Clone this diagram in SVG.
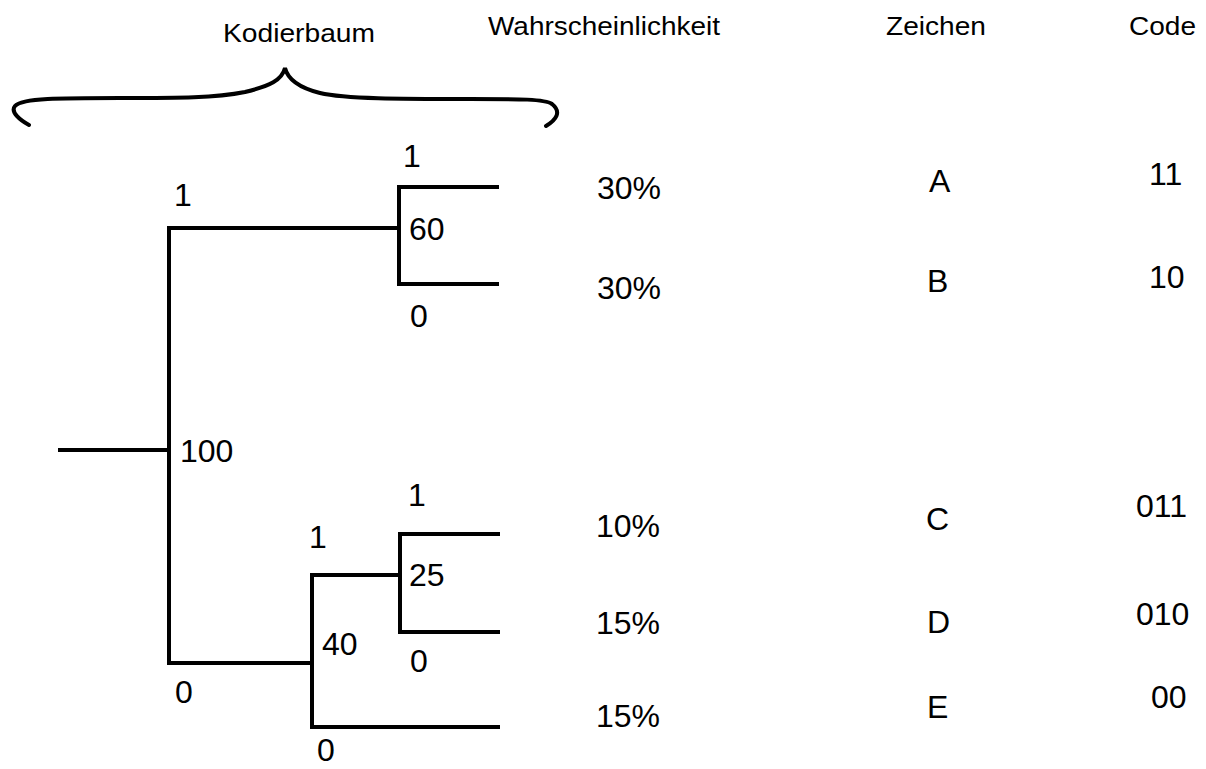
<svg xmlns="http://www.w3.org/2000/svg" width="1206" height="769" viewBox="0 0 1206 769">
<style>
  .ln{stroke:#000;stroke-width:4;fill:none;stroke-linecap:square}
  .t{font-family:"Liberation Sans",Arial,sans-serif;font-size:32px;fill:#000}
  .h{font-family:"Liberation Sans",Arial,sans-serif;font-size:26px;fill:#000}
</style>
<rect width="1206" height="769" fill="#fff"/>
<g id="headers">
  <text class="h" x="223" y="42" textLength="152" lengthAdjust="spacingAndGlyphs">Kodierbaum</text>
  <text class="h" x="488" y="35" textLength="232" lengthAdjust="spacingAndGlyphs">Wahrscheinlichkeit</text>
  <text class="h" x="886" y="35" textLength="100" lengthAdjust="spacingAndGlyphs">Zeichen</text>
  <text class="h" x="1129" y="35" textLength="67" lengthAdjust="spacingAndGlyphs">Code</text>
</g>
<g id="brace">
  <path d="M29,125 C20,120 10,112 15,106 C22,98 60,98 120,98 C180,98 215,98 245,92 C270,86 282,80 285,68 C288,80 300,88 320,93 C345,99 400,99 470,99 C520,99 545,99 552,104 C562,112 556,120 546,126" stroke="#000" stroke-width="4" fill="none" stroke-linecap="round"/>
</g>
<g id="connectors">
  <path class="ln" d="M60,450 H168"/>
  <path class="ln" d="M169,228 V663"/>
  <path class="ln" d="M169,228 H396"/>
  <path class="ln" d="M399,187 V284"/>
  <path class="ln" d="M399,187 H497"/>
  <path class="ln" d="M399,284 H497"/>
  <path class="ln" d="M169,663 H310"/>
  <path class="ln" d="M312,575 V727"/>
  <path class="ln" d="M312,575 H398"/>
  <path class="ln" d="M400,534 V632"/>
  <path class="ln" d="M400,534 H498"/>
  <path class="ln" d="M400,632 H498"/>
  <path class="ln" d="M312,727 H498"/>
</g>
<g id="node-root"><text class="t" x="180" y="462">100</text></g>
<g id="node-60"><text class="t" x="409" y="240">60</text></g>
<g id="node-40"><text class="t" x="322" y="655">40</text></g>
<g id="node-25"><text class="t" x="409" y="586">25</text></g>
<g id="edge-labels">
  <text class="t" x="174" y="206">1</text>
  <text class="t" x="175" y="703">0</text>
  <text class="t" x="403" y="167">1</text>
  <text class="t" x="410" y="327">0</text>
  <text class="t" x="309" y="548">1</text>
  <text class="t" x="317" y="761">0</text>
  <text class="t" x="408" y="506">1</text>
  <text class="t" x="410" y="672">0</text>
</g>
<g id="row-A">
  <text class="t" x="597" y="199">30%</text>
  <text class="t" x="929" y="192">A</text>
  <text class="t" x="1149" y="185">11</text>
</g>
<g id="row-B">
  <text class="t" x="597" y="299">30%</text>
  <text class="t" x="927" y="292">B</text>
  <text class="t" x="1149" y="288">10</text>
</g>
<g id="row-C">
  <text class="t" x="596" y="537">10%</text>
  <text class="t" x="926" y="530">C</text>
  <text class="t" x="1136" y="517">011</text>
</g>
<g id="row-D">
  <text class="t" x="596" y="634">15%</text>
  <text class="t" x="927" y="633">D</text>
  <text class="t" x="1136" y="625">010</text>
</g>
<g id="row-E">
  <text class="t" x="596" y="727">15%</text>
  <text class="t" x="927" y="718">E</text>
  <text class="t" x="1151" y="708">00</text>
</g>
</svg>
